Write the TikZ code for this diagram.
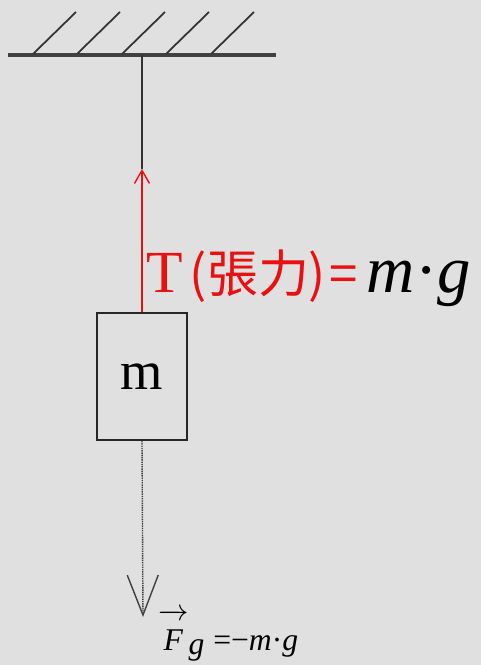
\documentclass[tikz,border=0pt]{standalone}
\usepackage{fontspec}
\setmainfont{Liberation Serif}
\newfontfamily\cjk{Noto Sans CJK TC}
\usetikzlibrary{arrows.meta, positioning}
\definecolor{bggray}{RGB}{224,224,224}
\definecolor{tensionred}{RGB}{232,16,16}

\begin{document}
\begin{tikzpicture}[
                x=0.02cm, y=-0.02cm,
                mass/.style={rectangle, draw=black!85, line width=1.1pt, minimum width=1.8cm, minimum height=2.54cm, inner sep=0pt, font=\fontsize{31}{31}\selectfont},
                hatch/.style={line width=1pt, black!80},
                forcelabel/.style={inner sep=0pt, anchor=base west}
            ]
                % background and page size
                \fill[bggray] (0,0) rectangle (481,665);
                \useasboundingbox (0,0) rectangle (481,665);

                % ceiling
                \draw[line width=2.2pt, black!75] (8,55) -- (276,55);
                \foreach \x in {33,77,122,166,211}
                    \draw[hatch] (\x,54) -- ++(43,-42);

                \node [mass] (block) at (142,376.5) {m};
                \coordinate (hook) at (142,55);
                \coordinate (ttip) at (142,169);
                \coordinate (gtip) at (143,617);

                \draw[line width=0.8pt, black!80] (hook) -- (ttip);
                \draw[line width=0.8pt, tensionred, -{Straight Barb[length=0.26cm, width=0.3cm]}] (block.north) -- (ttip);
                \draw[line width=0.8pt, black!75, dash pattern=on 0.8pt off 0.5pt, -{Straight Barb[length=0.8cm, width=0.62cm, line width=0.8pt]}] (block.south) -- (gtip);

                % labels
                \node [forcelabel, text=tensionred] (tension) at (146,293) {\fontsize{34}{34}\selectfont T\hspace{4pt}{\cjk\fontsize{29}{29}\selectfont(張力)\hspace{2pt}=}\hspace{5pt}\textcolor{black}{\fontsize{38}{38}\selectfont\textit{m}·\textit{g}}};
                \node [forcelabel] (gravity) at (158,650) {\fontsize{18}{18}\selectfont $\overrightarrow{\raisebox{0pt}[1.5\height]{\textit{F}}}_{\textit{g}}$ =−\textit{m}·\textit{g}};
            \end{tikzpicture}
\end{document}
